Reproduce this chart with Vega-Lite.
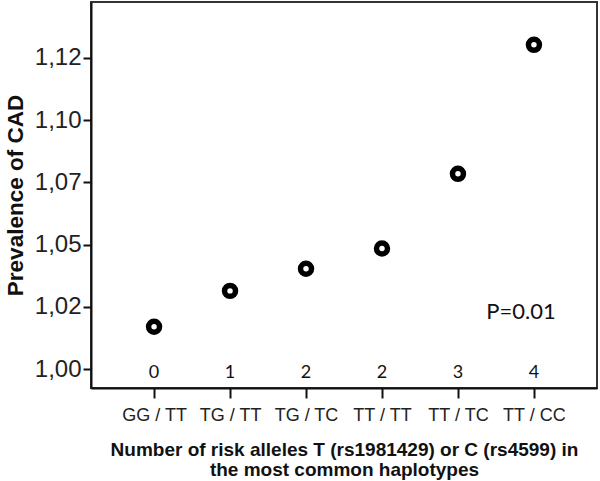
{
  "$schema": "https://vega.github.io/schema/vega-lite/v6.json",
  "autosize": {"type": "none"},
  "padding": {"left": 91, "top": 2, "right": 3, "bottom": 93},
  "width": 506,
  "height": 386,
  "config": {
    "view": {"stroke": "#333333", "strokeWidth": 2},
    "font": "Liberation Sans"
  },
  "data": {
    "values": [
      {"haplotype": "GG / TT", "alleles": "0", "prevalence": 1.0170},
      {"haplotype": "TG / TT", "alleles": "1", "prevalence": 1.0314},
      {"haplotype": "TG / TC", "alleles": "2", "prevalence": 1.0403},
      {"haplotype": "TT / TT", "alleles": "2", "prevalence": 1.0484},
      {"haplotype": "TT / TC", "alleles": "3", "prevalence": 1.0784},
      {"haplotype": "TT / CC", "alleles": "4", "prevalence": 1.1302}
    ]
  },
  "encoding": {
    "x": {
      "field": "haplotype",
      "type": "nominal",
      "sort": null,
      "scale": {"type": "point", "padding": 0.83},
      "axis": {
        "title": ["Number of risk alleles T (rs1981429) or C (rs4599) in", "the most common haplotypes"],
        "titleFontSize": 19,
        "titleFontWeight": "bold",
        "titleColor": "#111111",
        "titlePadding": 16,
        "titleLineHeight": 20,
        "labelAngle": 0,
        "labelFontSize": 18,
        "labelColor": "#222222",
        "labelPadding": 8,
        "tickSize": 10,
        "tickWidth": 2,
        "tickColor": "#111111",
        "domainWidth": 2,
        "domainColor": "#111111",
        "grid": false
      }
    }
  },
  "layer": [
    {
      "mark": {"type": "point", "shape": "circle", "filled": false, "size": 120, "strokeWidth": 5.5, "color": "#000000", "opacity": 1},
      "encoding": {
        "y": {
          "field": "prevalence",
          "type": "quantitative",
          "scale": {"domain": [0.9924, 1.1474], "zero": false, "nice": false},
          "axis": {
            "title": "Prevalence of CAD",
            "titleFontSize": 22.5,
            "titleFontWeight": "bold",
            "titleColor": "#111111",
            "titlePadding": 7,
            "values": [1, 1.025, 1.05, 1.075, 1.1, 1.125],
            "labelExpr": "replace(format(floor(datum.value * 100 + 0.000001) / 100, '.2f'), '.', ',')",
            "labelFontSize": 24,
            "labelColor": "#222222",
            "labelPadding": 2,
            "tickSize": 8,
            "tickWidth": 2,
            "tickColor": "#111111",
            "domainWidth": 2,
            "domainColor": "#111111",
            "grid": false
          }
        }
      }
    },
    {
      "mark": {"type": "text", "fontSize": 18, "font": "Lato", "color": "#111111", "baseline": "middle"},
      "encoding": {
        "y": {"datum": 0.9986, "type": "quantitative"},
        "text": {"field": "alleles"}
      }
    },
    {
      "data": {"values": [{"label": "P=0.01"}]},
      "mark": {"type": "text", "fontSize": 22, "font": "Lato", "color": "#111111", "baseline": "middle", "dx": -13},
      "encoding": {
        "x": {"datum": "TT / CC"},
        "y": {"datum": 1.0228, "type": "quantitative"},
        "text": {"field": "label"}
      }
    }
  ]
}
